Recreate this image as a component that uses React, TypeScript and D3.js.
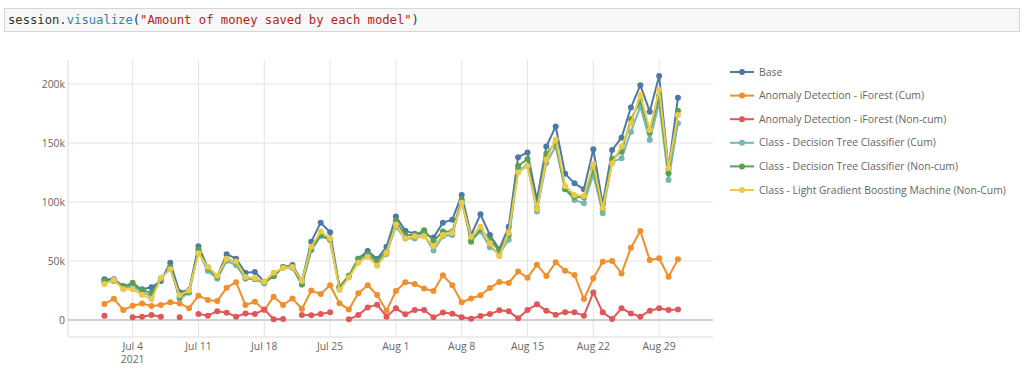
import React from "react";
import * as d3 from "d3";

// ---- data (values in thousands) ----
const startDate = Date.UTC(2021, 6, 1);
const endDate = Date.UTC(2021, 8, 1);
const dates: Date[] = d3.utcDay.range(new Date(startDate), new Date(endDate));

const seriesNames = [
  "Base",
  "Anomaly Detection - iForest (Cum)",
  "Anomaly Detection - iForest (Non-cum)",
  "Class - Decision Tree Classifier (Cum)",
  "Class - Decision Tree Classifier (Non-cum)",
  "Class - Light Gradient Boosting Machine (Non-Cum)",
];
const seriesColors = ["#4e79a7", "#f28e2b", "#e15759", "#76b7b2", "#59a14f", "#edc948"];

const base = [
  34.5, 34.5, 28.8, 29, 26, 27.7, 33, 48.5, 23.5, 25.5, 62.5, 44.5, 37, 55.8, 52, 40, 40.7, 32.5, 37.5, 45, 46.5,
  33, 66.4, 82.5, 74.3, 28, 37, 52, 58.5, 51.7, 62, 87.6, 75.7, 73, 73, 69.8, 82.5, 85, 106, 72, 89.5, 72, 60, 79,
  138, 142, 101.7, 147, 164, 124, 115.8, 110.7, 144.6, 98.3, 144, 154.5, 180, 199, 176.5, 206.8, 128, 188.4,
];
const iforestCum = [
  13.6, 18, 8.5, 12, 14, 11.9, 12.7, 15, 14, 10, 20.6, 17, 16, 27.4, 32, 12.7, 15.5, 8.5, 19.8, 12.7, 18.3, 9.3,
  24.9, 22, 29.5, 14.1, 9, 22.6, 29.4, 21.2, 7.9, 24.6, 32, 30.5, 26.6, 24.6, 37.9, 29.5, 15, 18.2, 21, 27.2, 32.3,
  31.3, 41, 35.9, 46.9, 37.3, 48.9, 41.8, 38.1, 17.8, 35.3, 49.4, 50, 39.5, 61.3, 75.4, 50.8, 52.3, 36.7, 51.4,
];
const iforestNonCum: (number | null)[] = [
  3.7, null, null, 2.3, 2.8, 4.2, 2.8, null, 2.3, null, 5, 3.7, 7.5, 6.2, 2.8, 5.6, 5, 9, 0.6, 0.8, null, 4.3, 4,
  5, 6.5, null, 0.6, 4.2, 10.7, 13, 2.8, 9.9, 4.8, 8.5, 8.5, 2.3, 6.3, 5.3, 2.3, 1, 3.4, 5, 8.2, 7.5, 1.4, 8.5,
  13.3, 7.9, 4.5, 6.5, 6.5, 3.7, 23.4, 6.5, 0.8, 9.9, 5.6, 2.8, 7.9, 9.9, 8.5, 9,
];
const dtCum = [
  32, 33, 28, 28, 24, 20, 35, 44, 18, 23, 58, 41.5, 35, 50, 46.5, 35, 34.5, 31, 38, 44.5, 44, 30, 59, 71, 68, 27,
  37, 49, 55, 47, 56, 79, 69, 69, 72, 58.8, 71, 72, 100, 68, 75, 61.6, 56, 68, 127, 131, 92, 133, 147, 111, 101.7,
  99, 123, 90.4, 134, 137, 159.6, 180.8, 152.5, 183.6, 118.6, 166.7,
];
const dtNonCum = [
  33, 34, 28.5, 31.5, 25.5, 23, 35, 45, 19.5, 24, 60, 44, 36.5, 52, 49, 36, 35, 32, 37, 45, 45, 30, 60, 72, 68, 28,
  37.5, 52, 56, 50, 58, 84, 72, 72, 76, 67, 75, 75, 102, 66.4, 77, 68, 58.8, 72, 130.5, 136.4, 95, 140.7, 150,
  110.7, 104.5, 104, 128, 94, 136.4, 142.7, 170, 186, 158.8, 190, 124.3, 177.4,
];
const lgbm = [
  30.5, 34, 26, 26, 21.5, 17.5, 35.5, 43, 21, 25, 56.5, 45, 37.5, 52, 49.5, 36.5, 35.3, 32.5, 40, 44, 45, 33, 62,
  75, 69, 25.4, 36, 48.6, 53.7, 46, 57, 81, 69, 71, 71, 62.7, 72, 74, 99.4, 70.6, 79, 65, 54, 74, 125, 130.5, 94,
  136, 153, 113.6, 106, 105, 132, 94.6, 132.8, 147, 166.7, 190.7, 161, 195, 128.5, 173.7,
];
const seriesValues: (number | null)[][] = [base, iforestCum, iforestNonCum, dtCum, dtNonCum, lgbm];

const yTicks = [0, 50, 100, 150, 200];
const yTickLabels = ["0", "50k", "100k", "150k", "200k"];

const W = 1024;
const H = 375;
const plot = { left: 68, right: 713, top: 60, bottom: 337 };
const xDomain: [Date, Date] = [new Date(Date.UTC(2021, 5, 27, 3)), new Date(Date.UTC(2021, 8, 3, 17, 30))];
const yDomain: [number, number] = [-14.4, 220.3];

export default function App() {
  const x = d3.scaleUtc().domain(xDomain).range([plot.left, plot.right]);
  const y = d3.scaleLinear().domain(yDomain).range([plot.bottom, plot.top]);
  const xTicks = x.ticks(d3.utcSunday.every(1) as any);
  const fmt = d3.utcFormat("%b %-d");
  const font = "'Open Sans', 'DejaVu Sans', sans-serif";
  const fs = 10.4;

  const line = d3
    .line<number | null>()
    .defined((v) => v != null)
    .x((_, i) => x(dates[i]))
    .y((v) => y(v as number));

  return (
    <svg
      width={W}
      height={H}
      style={{ position: "absolute", left: 0, top: 0, background: "#fff" }}
      xmlns="http://www.w3.org/2000/svg"
    >
      <rect x={0} y={0} width={W} height={H} fill="#fff" />
      {/* code cell */}
      <rect x={4.5} y={8.5} width={1015} height={23} fill="#f7f7f7" stroke="#d6d6d6" />
      <text x={8} y={24} fontFamily="'DejaVu Sans Mono', monospace" fontSize={12.2} fill="#333">
        <tspan>session.</tspan>
        <tspan fill="#2f82ad">visualize</tspan>
        <tspan>(</tspan>
        <tspan fill="#ba2121">"Amount of money saved by each model"</tspan>
        <tspan>)</tspan>
      </text>

      {/* grid */}
      {xTicks.map((t, i) => (
        <line key={"vx" + i} x1={x(t)} x2={x(t)} y1={plot.top} y2={plot.bottom} stroke="#e4e4e4" strokeWidth={1} />
      ))}
      {yTicks.map((t, i) =>
        t === 0 ? null : (
          <line key={"hy" + i} x1={plot.left} x2={plot.right} y1={y(t)} y2={y(t)} stroke="#e4e4e4" strokeWidth={1} />
        )
      )}
      <line x1={plot.left} x2={plot.right} y1={y(0)} y2={y(0)} stroke="#cfcfcf" strokeWidth={2} />
      {/* axis lines */}
      <line x1={plot.left} x2={plot.left} y1={plot.top} y2={plot.bottom} stroke="#dadada" strokeWidth={1} />
      <line x1={plot.left} x2={plot.right} y1={plot.bottom} y2={plot.bottom} stroke="#dadada" strokeWidth={1} />

      {/* y tick labels */}
      {yTicks.map((t, i) => (
        <text
          key={"yl" + i}
          x={plot.left - 3}
          y={y(t)}
          dy="0.35em"
          textAnchor="end"
          fontFamily={font}
          fontSize={fs}
          fill="#666"
        >
          {yTickLabels[i]}
        </text>
      ))}
      {/* x tick labels */}
      {xTicks.map((t, i) => (
        <text key={"xl" + i} x={x(t)} y={349.5} textAnchor="middle" fontFamily={font} fontSize={fs} fill="#666">
          {fmt(t)}
        </text>
      ))}
      {xTicks.length > 0 && (
        <text x={x(xTicks[0])} y={362.5} textAnchor="middle" fontFamily={font} fontSize={fs} fill="#666">
          {d3.utcFormat("%Y")(xTicks[0])}
        </text>
      )}

      {/* series */}
      {seriesValues.map((vals, s) => (
        <g key={"s" + s}>
          <path d={line(vals) || ""} fill="none" stroke={seriesColors[s]} strokeWidth={2} strokeLinejoin="round" />
          {vals.map((v, i) =>
            v == null ? null : <circle key={i} cx={x(dates[i])} cy={y(v)} r={3} fill={seriesColors[s]} />
          )}
        </g>
      ))}

      {/* legend */}
      {seriesNames.map((name, i) => {
        const ly = 72 + i * 23.6;
        return (
          <g key={"lg" + i}>
            <line x1={730} x2={754} y1={ly} y2={ly} stroke={seriesColors[i]} strokeWidth={2} />
            <circle cx={742} cy={ly} r={3} fill={seriesColors[i]} />
            <text x={759} y={ly} dy="0.35em" fontFamily={font} fontSize={fs} fill="#666">
              {name}
            </text>
          </g>
        );
      })}
    </svg>
  );
}
